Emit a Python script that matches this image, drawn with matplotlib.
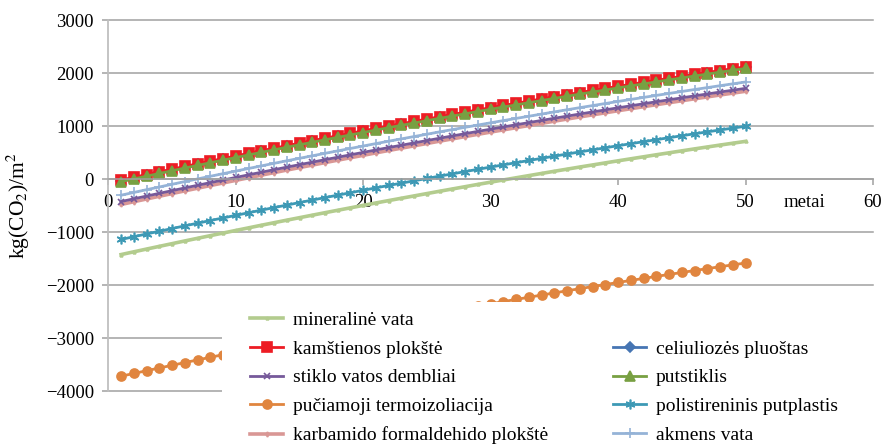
import matplotlib
matplotlib.use("Agg")
import matplotlib.pyplot as plt
from matplotlib.lines import Line2D
from matplotlib.patches import Rectangle

plt.rcParams["font.family"] = ["Liberation Serif", "DejaVu Serif"]
plt.rcParams["mathtext.fontset"] = "stix"

years = list(range(1, 51))

# cumulative CO2 balance, kg/m2, per insulation material
mineraline_vata = [-1420, -1368, -1316, -1265, -1214, -1163, -1113, -1063, -1014, -965,
                   -916, -867, -819, -771, -724, -677, -630, -584, -538, -492,
                   -446, -401, -357, -313, -269, -225, -182, -139, -96, -54,
                   -12, 29, 70, 111, 152, 192, 232, 271, 310, 349,
                   387, 425, 463, 500, 537, 574, 610, 646, 681, 716]
kamstienos = [-15, 37, 89, 140, 191, 242, 292, 342, 391, 440,
              489, 538, 586, 634, 681, 728, 775, 821, 867, 913,
              959, 1004, 1048, 1092, 1136, 1180, 1223, 1266, 1309, 1351,
              1393, 1434, 1475, 1516, 1557, 1597, 1637, 1676, 1715, 1754,
              1792, 1830, 1868, 1905, 1942, 1979, 2015, 2051, 2086, 2121]
celiuliozes = [-25, 27, 79, 130, 181, 232, 282, 332, 381, 430,
               479, 528, 576, 624, 671, 718, 765, 811, 857, 903,
               949, 994, 1038, 1082, 1126, 1170, 1213, 1256, 1299, 1341,
               1383, 1424, 1465, 1506, 1547, 1587, 1627, 1666, 1705, 1744,
               1782, 1820, 1858, 1895, 1932, 1969, 2005, 2041, 2076, 2111]
stiklo_vatos = [-420, -368, -316, -265, -214, -163, -113, -63, -14, 35,
                84, 133, 181, 229, 276, 323, 370, 416, 462, 508,
                554, 599, 643, 687, 731, 775, 818, 861, 904, 946,
                988, 1029, 1070, 1111, 1152, 1192, 1232, 1271, 1310, 1349,
                1387, 1425, 1463, 1500, 1537, 1574, 1610, 1646, 1681, 1716]
putstiklis = [-45, 7, 59, 110, 161, 212, 262, 312, 361, 410,
              459, 508, 556, 604, 651, 698, 745, 791, 837, 883,
              929, 974, 1018, 1062, 1106, 1150, 1193, 1236, 1279, 1321,
              1363, 1404, 1445, 1486, 1527, 1567, 1607, 1646, 1685, 1724,
              1762, 1800, 1838, 1875, 1912, 1949, 1985, 2021, 2056, 2091]
puciamoji = [-3715, -3663, -3611, -3560, -3509, -3458, -3408, -3358, -3309, -3260,
             -3211, -3162, -3114, -3066, -3019, -2972, -2925, -2879, -2833, -2787,
             -2741, -2696, -2652, -2608, -2564, -2520, -2477, -2434, -2391, -2349,
             -2307, -2266, -2225, -2184, -2143, -2103, -2063, -2024, -1985, -1946,
             -1908, -1870, -1832, -1795, -1758, -1721, -1685, -1649, -1614, -1579]
polistireninis = [-1135, -1083, -1031, -980, -929, -878, -828, -778, -729, -680,
                  -631, -582, -534, -486, -439, -392, -345, -299, -253, -207,
                  -161, -116, -72, -28, 16, 60, 103, 146, 189, 231,
                  273, 314, 355, 396, 437, 477, 517, 556, 595, 634,
                  672, 710, 748, 785, 822, 859, 895, 931, 966, 1001]
karbamido = [-475, -423, -371, -320, -269, -218, -168, -118, -69, -20,
             29, 78, 126, 174, 221, 268, 315, 361, 407, 453,
             499, 544, 588, 632, 676, 720, 763, 806, 849, 891,
             933, 974, 1015, 1056, 1097, 1137, 1177, 1216, 1255, 1294,
             1332, 1370, 1408, 1445, 1482, 1519, 1555, 1591, 1626, 1661]
akmens_vata = [-300, -248, -196, -145, -94, -43, 7, 57, 106, 155,
               204, 253, 301, 349, 396, 443, 490, 536, 582, 628,
               674, 719, 763, 807, 851, 895, 938, 981, 1024, 1066,
               1108, 1149, 1190, 1231, 1272, 1312, 1352, 1391, 1430, 1469,
               1507, 1545, 1583, 1620, 1657, 1694, 1730, 1766, 1801, 1836]

x_ticks = [0, 10, 20, 30, 40, 50, 60]
y_ticks = [-4000, -3000, -2000, -1000, 0, 1000, 2000, 3000]

fig = plt.figure(figsize=(8.83, 4.46), dpi=100)
ax = fig.add_axes([0.1227, 0.1226, 0.866, 0.8319])

# (label, data, colour, marker, marker size, line width)
series = [
    ("mineralinė vata", mineraline_vata, "#b3cc8e", "^", 2, 2.6),
    ("celiuliozės pluoštas", celiuliozes, "#4675b3", "D", 5, 2.0),
    ("kamštienos plokštė", kamstienos, "#ed1c24", "s", 6.5, 2.0),
    ("putstiklis", putstiklis, "#78a042", "^", 6.5, 2.0),
    ("karbamido formaldehido plokštė", karbamido, "#d99795", "d", 2.5, 2.6),
    ("stiklo vatos dembliai", stiklo_vatos, "#76599a", "x", 5, 2.0),
    ("akmens vata", akmens_vata, "#95b3d7", "+", 7, 2.0),
    ("polistireninis putplastis", polistireninis, "#3d99b5", (6, 2, 0), 7, 2.0),
    ("pučiamoji termoizoliacija", puciamoji, "#e0853f", "o", 6.5, 2.0),
]

handles = {}
for label, vals, color, marker, ms, lw in series:
    (ln,) = ax.plot(years, vals, color=color, lw=lw, marker=marker, ms=ms,
                    mec=color, mfc=color, mew=1.2, label=label)
    handles[label] = ln

ax.set_xlim(0, 60)
ax.set_ylim(-4000, 3000)
ax.set_xticks(x_ticks)
ax.set_yticks(y_ticks)
ax.yaxis.grid(True, color="#a0a0a0", lw=1.1)
ax.set_axisbelow(True)
for gl in ax.yaxis.get_gridlines():
    gl.set_clip_on(False)

for side in ["top", "right"]:
    ax.spines[side].set_visible(False)
ax.spines["bottom"].set_position(("data", 0))
ax.spines["bottom"].set_color("#a0a0a0")
ax.spines["left"].set_color("#bfbfbf")
ax.spines["bottom"].set_linewidth(1.1)
ax.spines["left"].set_linewidth(1.3)
ax.tick_params(axis="both", colors="#a0a0a0", labelcolor="black",
               labelsize=13.5, length=4, width=1.1, pad=6.5)

ax.annotate("metai", xy=(54.6, 0), xycoords="data", xytext=(0, -10.5),
            textcoords="offset points", ha="center", va="top", fontsize=13.5)

ax.set_ylabel("kg(CO$_2$)/m$^2$", fontsize=15.5)
ax.yaxis.set_label_coords(-0.1, 0.5)

# white block behind the legend, it sits over the lower part of the plot
fig.patches.append(Rectangle((222 / 883, 0), 1 - 222 / 883, 144 / 446,
                             transform=fig.transFigure, facecolor="white",
                             edgecolor="none", zorder=3))

blank = Line2D([], [], linestyle="none", marker="none")
order = ["mineralinė vata", "kamštienos plokštė", "stiklo vatos dembliai",
         "pučiamoji termoizoliacija", "karbamido formaldehido plokštė",
         None, "celiuliozės pluoštas", "putstiklis",
         "polistireninis putplastis", "akmens vata"]
leg_handles = [handles[k] if k else blank for k in order]
leg_labels = [k if k else " " for k in order]
fig.legend(leg_handles, leg_labels, loc="upper left",
           bbox_to_anchor=(250 / 883, (446 - 311) / 446), ncol=2,
           frameon=False, fontsize=14, handlelength=1.7,
           handletextpad=0.5, columnspacing=3.35, labelspacing=0.58,
           borderpad=0, borderaxespad=0)

fig.savefig("out.png", dpi=100)
